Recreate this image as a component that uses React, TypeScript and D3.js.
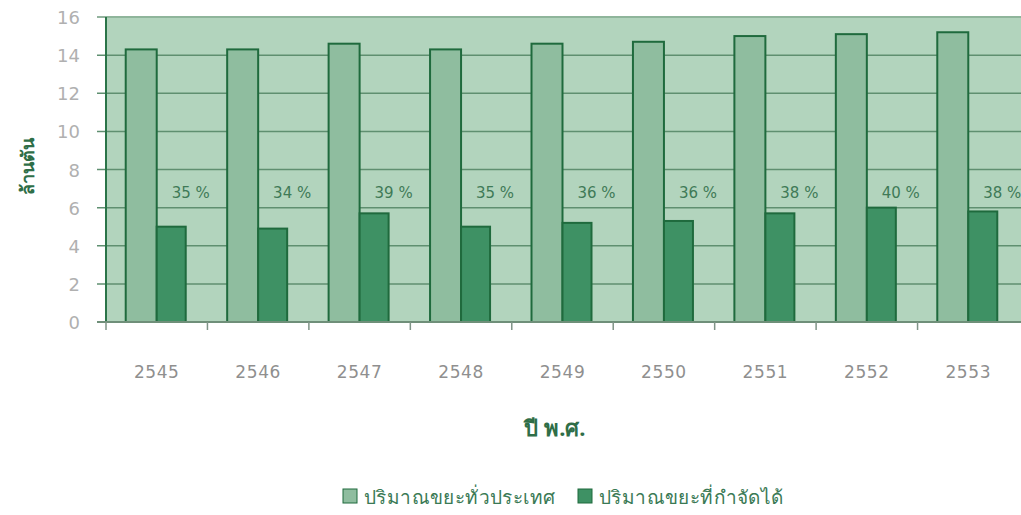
import React, { useEffect, useRef } from 'react';
import * as d3 from 'd3';

const years = ['2545', '2546', '2547', '2548', '2549', '2550', '2551', '2552', '2553'];
const totalWaste = [14.3, 14.3, 14.6, 14.3, 14.6, 14.7, 15.0, 15.1, 15.2];
const disposedWaste = [5.0, 4.9, 5.7, 5.0, 5.2, 5.3, 5.7, 6.0, 5.8];
const percentLabels = ['35 %', '34 %', '39 %', '35 %', '36 %', '36 %', '38 %', '40 %', '38 %'];
const yTicks = [0, 2, 4, 6, 8, 10, 12, 14, 16];
const seriesNames = ['ปริมาณขยะทั่วประเทศ', 'ปริมาณขยะที่กำจัดได้'];

const App: React.FC = () => {
  const ref = useRef<SVGSVGElement | null>(null);

  useEffect(() => {
    if (!ref.current) return;
    const width = 1021;
    const height = 515;
    const left = 106;
    const right = 1019;
    const top = 17;
    const bottom = 322;
    const font = "'DejaVu Sans', sans-serif";
    const thai = "'Noto Sans', 'DejaVu Sans', sans-serif";

    const svg = d3.select(ref.current);
    svg.selectAll('*').remove();
    svg.attr('width', width).attr('height', height);

    const x = d3.scaleBand<string>().domain(years).range([left, right]).padding(0);
    const y = d3.scaleLinear().domain([0, 16]).range([bottom, top]);
    const barW = 31;

    // plot background
    svg.append('rect')
      .attr('x', left).attr('y', top)
      .attr('width', right - left + 10).attr('height', bottom - top)
      .attr('fill', '#b2d4bd');
    svg.append('line')
      .attr('x1', left).attr('x2', width).attr('y1', top).attr('y2', top)
      .attr('stroke', '#8fb59b').attr('stroke-width', 2);

    // gridlines
    svg.append('g').selectAll('line')
      .data(yTicks.filter(t => t > 0 && t < 16))
      .enter().append('line')
      .attr('x1', left - 9).attr('x2', width)
      .attr('y1', d => y(d)).attr('y2', d => y(d))
      .attr('stroke', '#5f8f70').attr('stroke-width', 1.5);

    // y tick labels
    svg.append('g').selectAll('text')
      .data(yTicks)
      .enter().append('text')
      .attr('x', 80).attr('y', d => y(d) + 7)
      .attr('text-anchor', 'end')
      .attr('font-family', font).attr('font-size', 18)
      .attr('fill', '#b0b0b0')
      .text(d => d);
    svg.append('line')
      .attr('x1', left - 9).attr('x2', left).attr('y1', y(16)).attr('y2', y(16))
      .attr('stroke', '#6f9a7e').attr('stroke-width', 1.5);

    // bars
    const g = svg.append('g');
    g.selectAll('rect.total')
      .data(years)
      .enter().append('rect')
      .attr('class', 'total')
      .attr('x', d => (x(d) as number) + x.bandwidth() / 2 - barW)
      .attr('y', (d, i) => y(totalWaste[i]))
      .attr('width', barW)
      .attr('height', (d, i) => y(0) - y(totalWaste[i]))
      .attr('fill', '#8fbd9f')
      .attr('stroke', '#1f6a3d').attr('stroke-width', 2);
    g.selectAll('rect.disposed')
      .data(years)
      .enter().append('rect')
      .attr('class', 'disposed')
      .attr('x', d => (x(d) as number) + x.bandwidth() / 2)
      .attr('y', (d, i) => y(disposedWaste[i]))
      .attr('width', barW - 2)
      .attr('height', (d, i) => y(0) - y(disposedWaste[i]))
      .attr('fill', '#3e9164')
      .attr('stroke', '#1f6a3d').attr('stroke-width', 2);

    // percentage labels
    g.selectAll('text.pct')
      .data(years)
      .enter().append('text')
      .attr('class', 'pct')
      .attr('x', d => (x(d) as number) + x.bandwidth() / 2 + 34)
      .attr('y', y(6.5))
      .attr('text-anchor', 'middle')
      .attr('font-family', font).attr('font-size', 15)
      .attr('fill', '#3f7a57')
      .text((d, i) => percentLabels[i]);

    // axes lines
    svg.append('line')
      .attr('x1', left).attr('x2', left).attr('y1', top).attr('y2', bottom)
      .attr('stroke', '#2a7448').attr('stroke-width', 2);
    svg.append('line')
      .attr('x1', left - 9).attr('x2', width).attr('y1', bottom).attr('y2', bottom)
      .attr('stroke', '#6f8f79').attr('stroke-width', 2);

    // x ticks
    svg.append('g').selectAll('line')
      .data(years)
      .enter().append('line')
      .attr('x1', d => x(d) as number).attr('x2', d => x(d) as number)
      .attr('y1', bottom).attr('y2', bottom + 8)
      .attr('stroke', '#7f9487').attr('stroke-width', 1.5);

    // x labels
    svg.append('g').selectAll('text')
      .data(years)
      .enter().append('text')
      .attr('x', d => (x(d) as number) + x.bandwidth() / 2)
      .attr('y', 378)
      .attr('text-anchor', 'middle')
      .attr('font-family', font).attr('font-size', 17)
      .attr('letter-spacing', 0.6)
      .attr('fill', '#8f8f8f')
      .text(d => d);

    // axis titles
    svg.append('text')
      .attr('x', 555).attr('y', 436)
      .attr('text-anchor', 'middle')
      .attr('font-family', thai)
      .attr('font-size', 22).attr('font-weight', 'bold')
      .attr('fill', '#2f6e48')
      .text('ปี พ.ศ.');
    svg.append('text')
      .attr('transform', 'translate(34,166) rotate(-90)')
      .attr('text-anchor', 'middle')
      .attr('font-family', thai)
      .attr('font-size', 18).attr('font-weight', 'bold')
      .attr('fill', '#2f6e48')
      .text('ล้านตัน');

    // legend
    const legendX = [343, 578];
    const legendFill = ['#8fbd9f', '#3e9164'];
    const lg = svg.append('g');
    seriesNames.forEach((name, i) => {
      lg.append('rect')
        .attr('x', legendX[i]).attr('y', 489)
        .attr('width', 14).attr('height', 14)
        .attr('fill', legendFill[i])
        .attr('stroke', '#1f6a3d').attr('stroke-width', 1);
      lg.append('text')
        .attr('x', legendX[i] + 21).attr('y', 504)
        .attr('font-family', thai)
        .attr('font-size', 19)
        .attr('letter-spacing', 0.4)
        .attr('fill', '#3a7a55')
        .text(name);
    });
  }, []);

  return (
    <div style={{ position: 'absolute', left: 0, top: 0 }}>
      <svg ref={ref}></svg>
    </div>
  );
};

export default App;
